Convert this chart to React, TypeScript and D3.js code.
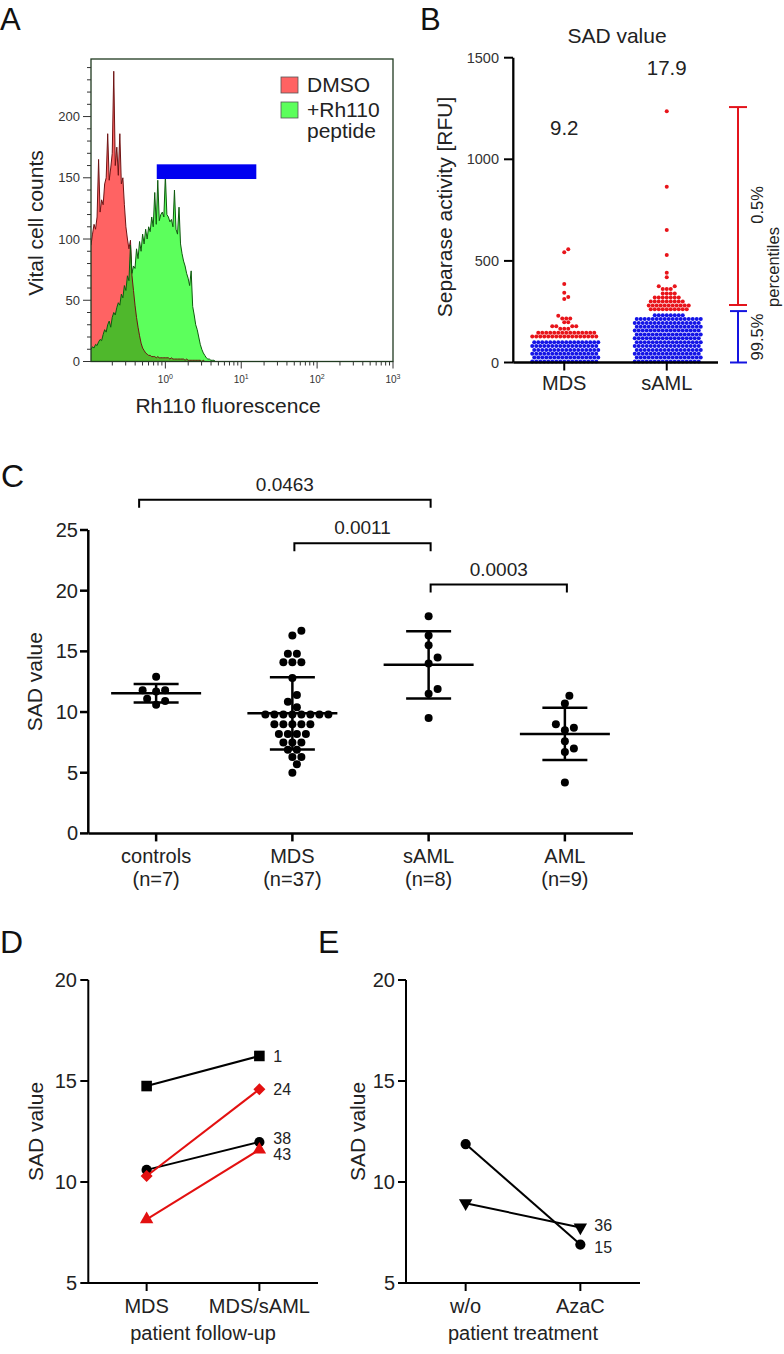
import React from "react";
import * as d3 from "d3";

const FONT = "'Liberation Sans', Arial, Helvetica, sans-serif";

/* ---------------- Panel A: flow histogram ---------------- */
const histLogStart = -0.98;
const histLogStep = 0.02;
const dmsoCounts = [95,104,112,108,118,165,122,132,128,145,150,186,148,158,170,237,160,175,152,186,145,150,128,110,100,92,99,70,58,46,36,28,21,15,11,9,7,6,5,5,4,4,4,3,4,3,3,3,3,3,3,3,2,3,2,2,2,2,2,2,2,2,1,2,1,1,1,1,1,1,1,1,1,0,1,0,0];
const rh110Counts = [10,12,11,14,13,16,18,17,22,26,24,30,33,28,36,40,38,44,48,46,55,52,62,58,70,66,95,72,78,76,92,84,98,90,104,96,108,100,110,106,118,110,138,112,148,115,120,122,118,152,120,118,114,116,110,140,108,104,126,96,88,82,78,72,68,62,74,45,38,30,26,20,14,10,7,5,3,2,2,1,1,1,0];
const aYTicks = [0, 50, 100, 150, 200];
const aXDecades = [0, 1, 2, 3];
const aLegend = ["DMSO", "+Rh110", "peptide"];
const gateX = [0.77, 15.8];
const gateY = [149, 161];

/* ---------------- Panel B: separase activity ---------------- */
const bCategories = ["MDS", "sAML"];
const bSadLabels = ["9.2", "17.9"];
const bYTicks = [0, 500, 1000, 1500];
const mdsRowValues = [5, 24, 43, 62, 81, 100, 128, 147, 166, 178, 198, 216, 230, 312, 322, 343, 386, 543, 557];
const mdsRowCounts = [17, 17, 17, 17, 17, 17, 17, 15, 3, 4, 2, 3, 1, 1, 1, 1, 1, 1, 1];
const samlRowValues = [5, 24, 43, 62, 81, 100, 119, 138, 157, 176, 195, 214, 233, 262, 281, 300, 320, 340, 362, 375, 419, 442, 529, 652, 865, 1237];
const samlRowCounts = [17, 17, 17, 17, 17, 17, 17, 17, 17, 17, 17, 17, 8, 10, 11, 9, 7, 4, 3, 2, 1, 1, 1, 1, 1, 1];
const bCutoffs = [114, 250];
const bRedRange = [283, 1257];
const bBlueRange = [0, 253];

/* ---------------- Panel C: SAD values ---------------- */
const cCategories = ["controls", "MDS", "sAML", "AML"];
const cCounts = ["(n=7)", "(n=37)", "(n=8)", "(n=9)"];
const cYTicks = [0, 5, 10, 15, 20, 25];
const controlsSad = [12.9, 11.8, 11.7, 11.8, 11.1, 10.9, 10.6];
const mdsSad = [16.7, 16.3, 14.8, 14.8, 14.1, 14.1, 14.1, 12.8, 11.4, 10.85, 10.4,
  9.8, 9.8, 9.8, 9.8, 9.8, 9.8, 9.8, 9.8, 9.0, 9.0, 9.0, 9.0, 9.0,
  8.2, 8.2, 8.2, 8.2, 7.5, 7.5, 7.5, 6.9, 6.9, 6.3, 6.3, 5.7, 5.0];
const samlSad = [17.9, 16.3, 15.5, 14.5, 14.0, 11.9, 11.5, 9.5];
const amlSad = [11.35, 10.7, 9.0, 8.7, 8.5, 7.6, 7.0, 6.7, 4.2];
const pFrom = ["controls", "MDS", "sAML"];
const pTo = ["sAML", "sAML", "AML"];
const pValues = ["0.0463", "0.0011", "0.0003"];
const pLevels = [27.5, 23.9, 20.5];

/* ---------------- Panel D: follow-up ---------------- */
const dCategories = ["MDS", "MDS/sAML"];
const dPatients = ["1", "24", "38", "43"];
const dBefore = [14.75, 10.3, 10.6, 8.15];
const dAfter = [16.24, 14.59, 11.98, 11.6];

/* ---------------- Panel E: treatment ---------------- */
const eCategories = ["w/o", "AzaC"];
const ePatients = ["15", "36"];
const eBefore = [11.88, 8.95];
const eAfter = [6.9, 7.75];
const deYTicks = [5, 10, 15, 20];

/* ---------------- styles (not data) ---------------- */
const markerStyle: Record<string, { shape: string; color: string; nudge: number }> = {
  "1": { shape: "square", color: "#000", nudge: 0 },
  "24": { shape: "diamond", color: "#e31010", nudge: 0 },
  "38": { shape: "circle", color: "#000", nudge: -4 },
  "43": { shape: "triangle", color: "#e31010", nudge: 5 },
  "15": { shape: "circle", color: "#000", nudge: 3 },
  "36": { shape: "triangleDown", color: "#000", nudge: -2 },
};

type Pt = { v: number; dx: number; y: number };
function swarm(values: number[], yOf: (v: number) => number, diam: number, step: number): Pt[] {
  const placed: [number, number][] = [];
  const out: Pt[] = [];
  for (const v of values) {
    const y = yOf(v);
    let dx = 0;
    for (let k = 0; k < 600; k++) {
      const n = Math.ceil(k / 2);
      const off = k === 0 ? 0 : (k % 2 === 1 ? 1 : -1) * n * step;
      let ok = true;
      for (const [px, py] of placed) {
        const a = px - off, b = py - y;
        if (a * a + b * b < diam * diam - 1e-6) { ok = false; break; }
      }
      if (ok) { dx = off; break; }
    }
    placed.push([dx, y]);
    out.push({ v, dx, y });
  }
  return out;
}
const expandRows = (vals: number[], counts: number[]) =>
  vals.flatMap((v, i) => d3.range(counts[i]).map(() => v));

function symbolPath(shape: string): { d: string; rot: number } {
  if (shape === "square") return { d: d3.symbol().type(d3.symbolSquare).size(112)()!, rot: 0 };
  if (shape === "diamond") return { d: d3.symbol().type(d3.symbolSquare).size(72)()!, rot: 45 };
  if (shape === "circle") return { d: d3.symbol().type(d3.symbolCircle).size(82)()!, rot: 0 };
  if (shape === "triangle") return { d: d3.symbol().type(d3.symbolTriangle).size(78)()!, rot: 0 };
  return { d: d3.symbol().type(d3.symbolTriangle).size(78)()!, rot: 180 };
}

export default function App() {
  /* ---- A ---- */
  const xA = d3.scaleLog().domain([Math.pow(10, histLogStart), 1000]).range([91, 393]);
  const yA = d3.scaleLinear().domain([0, 247]).range([361.5, 59]);
  const binX = (i: number) => xA(Math.pow(10, histLogStart + histLogStep * i));
  const areaA = d3.area<number>().x((_, i) => binX(i)).y0(yA(0)).y1((d) => yA(d));
  const lineA = d3.line<number>().x((_, i) => binX(i)).y((d) => yA(d));
  const overlap = rh110Counts.map((g, i) => Math.min(g, dmsoCounts[i] ?? 0));
  const aMinorX: number[] = [];
  for (let dd = -1; dd < 3; dd++)
    for (let m = 1; m < 10; m++) {
      const v = m * Math.pow(10, dd);
      if (v >= xA.domain()[0] && v <= 1000) aMinorX.push(v);
    }
  aMinorX.push(1000);
  const aMinorY = d3.range(0, 250, 10);

  /* ---- B ---- */
  const yB = d3.scaleLinear().domain([0, 1500]).range([362.5, 57.7]);
  const xB = d3.scalePoint<string>().domain(bCategories).range([513, 718]).padding(0.5);
  const bGroups = [
    swarm(expandRows(mdsRowValues, mdsRowCounts), yB, 4, 2),
    swarm(expandRows(samlRowValues, samlRowCounts), yB, 4, 2),
  ];

  /* ---- C ---- */
  const yC = d3.scaleLinear().domain([0, 25]).range([833.4, 530]);
  const xC = d3.scalePoint<string>().domain(cCategories).range([88, 633]).padding(0.5);
  const cData = [controlsSad, mdsSad, samlSad, amlSad];
  const cSwarms = cData.map((arr) => swarm([...arr].sort((a, b) => a - b), yC, 8.5, 4.5));

  /* ---- D / E ---- */
  const yDE = d3.scaleLinear().domain([5, 20]).range([1283, 980]);
  const xD = d3.scalePoint<string>().domain(dCategories).range([88, 318]).padding(0.52);
  const xE = d3.scalePoint<string>().domain(eCategories).range([406, 640]).padding(0.52);

  const tickText = { fontFamily: FONT, fill: "#222" } as const;

  const pairedPanel = (
    x: d3.ScalePoint<string>,
    axisX: number,
    cats: string[],
    patients: string[],
    before: number[],
    after: number[],
    title: string,
    labelX: number,
    tickLabelX: number
  ) => {
    const [x0, x1] = x.range();
    const order = patients.map((p, i) => i).sort((a, b) => (markerStyle[patients[a]].color === "#000" ? -1 : 1) - (markerStyle[patients[b]].color === "#000" ? -1 : 1));
    return (
      <g>
        <line x1={axisX} x2={axisX} y1={yDE(20)} y2={yDE(5)} stroke="#000" strokeWidth={2} />
        <line x1={x0} x2={x1} y1={yDE(5)} y2={yDE(5)} stroke="#000" strokeWidth={2} />
        {deYTicks.map((t) => (
          <g key={t}>
            <line x1={axisX - 8} x2={axisX} y1={yDE(t)} y2={yDE(t)} stroke="#000" strokeWidth={2} />
            <text x={tickLabelX} y={yDE(t)} dy="0.35em" textAnchor="end" fontSize={20} {...tickText}>{t}</text>
          </g>
        ))}
        {cats.map((c) => (
          <g key={c}>
            <line x1={x(c)!} x2={x(c)!} y1={yDE(5)} y2={yDE(5) + 8} stroke="#000" strokeWidth={2} />
            <text x={x(c)!} y={1313} textAnchor="middle" fontSize={20} {...tickText}>{c}</text>
          </g>
        ))}
        <text x={(x0 + x1) / 2} y={1340} textAnchor="middle" fontSize={20} {...tickText}>{title}</text>
        <text transform={`translate(${labelX},${(yDE(5) + yDE(20)) / 2}) rotate(-90)`} textAnchor="middle" fontSize={21} {...tickText}>SAD value</text>
        {order.map((i) => {
          const st = markerStyle[patients[i]];
          const sp = symbolPath(st.shape);
          const xa = x(cats[0])!, xb = x(cats[1])!;
          return (
            <g key={patients[i]}>
              <line x1={xa} x2={xb} y1={yDE(before[i])} y2={yDE(after[i])} stroke={st.color} strokeWidth={2} />
              <path d={sp.d} transform={`translate(${xa},${yDE(before[i])}) rotate(${sp.rot})`} fill={st.color} />
              <path d={sp.d} transform={`translate(${xb},${yDE(after[i])}) rotate(${sp.rot})`} fill={st.color} />
              <text x={xb + 14} y={yDE(after[i]) + st.nudge} dy="0.35em" fontSize={16} {...tickText}>{patients[i]}</text>
            </g>
          );
        })}
      </g>
    );
  };

  return (
    <svg width={784} height={1354} style={{ position: "absolute", left: 0, top: 0, background: "#fff" }} fontFamily={FONT}>
      <rect width={784} height={1354} fill="#fff" />
      {/* panel letters */}
      <text x={0} y={30} fontSize={31} fill="#111">A</text>
      <text x={420} y={30} fontSize={31} fill="#111">B</text>
      <text x={1} y={487} fontSize={32} fill="#111">C</text>
      <text x={0} y={953} fontSize={32} fill="#111">D</text>
      <text x={318} y={953} fontSize={32} fill="#111">E</text>

      {/* ================= A ================= */}
      <defs>
        <clipPath id="clipA">
          <rect x={91} y={59} width={302} height={302.5} />
        </clipPath>
      </defs>
      <g clipPath="url(#clipA)">
        <path d={areaA(dmsoCounts)!} fill="#ff6363" />
        <path d={areaA(rh110Counts)!} fill="#5cff5c" />
        <path d={areaA(overlap)!} fill="#4fb82c" />
        <path d={lineA(dmsoCounts)!} fill="none" stroke="#6e1414" strokeWidth={1} />
        <path d={lineA(rh110Counts)!} fill="none" stroke="#0f5a0f" strokeWidth={1} />
        <rect x={xA(gateX[0])} y={yA(gateY[1])} width={xA(gateX[1]) - xA(gateX[0])} height={yA(gateY[0]) - yA(gateY[1])} fill="#0000f0" />
      </g>
      <rect x={91} y={59} width={302} height={302.5} fill="none" stroke="#1f3a1f" strokeWidth={1.3} />
      {aMinorY.map((t) => (
        <line key={t} x1={aYTicks.includes(t) ? 83 : 87} x2={91} y1={yA(t)} y2={yA(t)} stroke="#333" strokeWidth={1} />
      ))}
      {aYTicks.map((t) => (
        <text key={t} x={80} y={yA(t)} dy="0.35em" textAnchor="end" fontSize={13} fill="#333">{t}</text>
      ))}
      {aMinorX.map((v, i) => {
        const major = aXDecades.some((dd) => Math.abs(v - Math.pow(10, dd)) < 1e-9);
        return <line key={i} x1={xA(v)} x2={xA(v)} y1={361.5} y2={361.5 + (major ? 7 : 4)} stroke="#333" strokeWidth={1} />;
      })}
      {aXDecades.map((dd) => (
        <text key={dd} x={xA(Math.pow(10, dd))} y={383} textAnchor="middle" fontSize={10} fill="#333">
          10<tspan dy={-4} fontSize={7}>{dd}</tspan>
        </text>
      ))}
      <text x={228} y={413} textAnchor="middle" fontSize={21} fill="#222">Rh110 fluorescence</text>
      <text transform="translate(43,223) rotate(-90)" textAnchor="middle" fontSize={21} fill="#222">Vital cell counts</text>
      <rect x={281} y={77} width={17} height={16} fill="#ff6363" stroke="#555" strokeWidth={0.8} />
      <rect x={281} y={102} width={17} height={16} fill="#5cff5c" stroke="#555" strokeWidth={0.8} />
      <text x={307} y={92} fontSize={21} fill="#222">{aLegend[0]}</text>
      <text x={307} y={117} fontSize={21} fill="#222">{aLegend[1]}</text>
      <text x={307} y={138} fontSize={21} fill="#222">{aLegend[2]}</text>

      {/* ================= B ================= */}
      <text x={617} y={43} textAnchor="middle" fontSize={21} fill="#222">SAD value</text>
      {bGroups.map((g, gi) =>
        g.map((p, i) => (
          <circle key={`${gi}-${i}`} cx={xB(bCategories[gi])! + p.dx} cy={p.y} r={2} fill={p.v > bCutoffs[gi] ? "#e8141a" : "#1414e6"} />
        ))
      )}
      <line x1={513.3} x2={513.3} y1={yB(1500)} y2={yB(0)} stroke="#000" strokeWidth={2.3} />
      <line x1={513.3} x2={718} y1={yB(0)} y2={yB(0)} stroke="#000" strokeWidth={2.3} />
      {bYTicks.map((t) => (
        <g key={t}>
          <line x1={504} x2={513} y1={yB(t)} y2={yB(t)} stroke="#000" strokeWidth={2} />
          <text x={499} y={yB(t)} dy="0.35em" textAnchor="end" fontSize={14.5} fill="#333">{t}</text>
        </g>
      ))}
      {bCategories.map((c, i) => (
        <g key={c}>
          <line x1={xB(c)!} x2={xB(c)!} y1={yB(0)} y2={yB(0) + 8} stroke="#000" strokeWidth={2} />
          <text x={xB(c)!} y={390} textAnchor="middle" fontSize={20} fill="#222">{c}</text>
          <text x={xB(c)!} y={i === 0 ? 135 : 75} textAnchor="middle" fontSize={20.5} fill="#222">{bSadLabels[i]}</text>
        </g>
      ))}
      <text transform="translate(452,207) rotate(-90)" textAnchor="middle" fontSize={21} fill="#222">Separase activity [RFU]</text>
      <g stroke="#e3141c" strokeWidth={2}>
        <line x1={738} x2={738} y1={yB(bRedRange[0])} y2={yB(bRedRange[1])} />
        <line x1={729} x2={747} y1={yB(bRedRange[0])} y2={yB(bRedRange[0])} />
        <line x1={729} x2={747} y1={yB(bRedRange[1])} y2={yB(bRedRange[1])} />
      </g>
      <g stroke="#1414e0" strokeWidth={2}>
        <line x1={738} x2={738} y1={yB(bBlueRange[0])} y2={yB(bBlueRange[1])} />
        <line x1={730} x2={747} y1={yB(bBlueRange[0])} y2={yB(bBlueRange[0])} />
        <line x1={730} x2={747} y1={yB(bBlueRange[1])} y2={yB(bBlueRange[1])} />
      </g>
      <text transform="translate(763,205) rotate(-90)" textAnchor="middle" fontSize={16.5} fill="#222">0.5%</text>
      <text transform="translate(763,337) rotate(-90)" textAnchor="middle" fontSize={16.5} fill="#222">99.5%</text>
      <text transform="translate(779,267) rotate(-90)" textAnchor="middle" fontSize={16.5} fill="#222">percentiles</text>

      {/* ================= C ================= */}
      <line x1={88.3} x2={88.3} y1={yC(25)} y2={yC(0)} stroke="#000" strokeWidth={2.5} />
      <line x1={88.3} x2={633} y1={yC(0)} y2={yC(0)} stroke="#000" strokeWidth={2.5} />
      {cYTicks.map((t) => (
        <g key={t}>
          <line x1={80} x2={88} y1={yC(t)} y2={yC(t)} stroke="#000" strokeWidth={2.5} />
          <text x={78} y={yC(t)} dy="0.35em" textAnchor="end" fontSize={20} {...tickText}>{t}</text>
        </g>
      ))}
      {cCategories.map((c, i) => (
        <g key={c}>
          <line x1={xC(c)!} x2={xC(c)!} y1={yC(0)} y2={yC(0) + 8} stroke="#000" strokeWidth={2.5} />
          <text x={xC(c)!} y={863} textAnchor="middle" fontSize={20} {...tickText}>{c}</text>
          <text x={xC(c)!} y={886} textAnchor="middle" fontSize={20} {...tickText}>{cCounts[i]}</text>
        </g>
      ))}
      <text transform={`translate(42,${(yC(0) + yC(25)) / 2}) rotate(-90)`} textAnchor="middle" fontSize={21} {...tickText}>SAD value</text>
      {cSwarms.map((sw, ci) => {
        const cx = xC(cCategories[ci])!;
        const m = d3.mean(cData[ci])!;
        const sd = d3.deviation(cData[ci])!;
        return (
          <g key={ci}>
            {sw.map((p, i) => (
              <circle key={i} cx={cx + p.dx} cy={p.y} r={4} fill="#000" />
            ))}
            <line x1={cx - 45} x2={cx + 45} y1={yC(m)} y2={yC(m)} stroke="#000" strokeWidth={2.5} />
            <line x1={cx - 22.5} x2={cx + 22.5} y1={yC(m + sd)} y2={yC(m + sd)} stroke="#000" strokeWidth={2.5} />
            <line x1={cx - 22.5} x2={cx + 22.5} y1={yC(m - sd)} y2={yC(m - sd)} stroke="#000" strokeWidth={2.5} />
            <line x1={cx} x2={cx} y1={yC(m + sd)} y2={yC(m - sd)} stroke="#000" strokeWidth={2.5} />
          </g>
        );
      })}
      {pFrom.map((f, i) => {
        const xa = xC(f)! + (i === 0 ? -17 : 2);
        const xb = xC(pTo[i])! + 2;
        const y = yC(pLevels[i]);
        return (
          <g key={i}>
            <path d={`M${xa},${y + 8}V${y}H${xb}V${y + 8}`} fill="none" stroke="#000" strokeWidth={2} />
            <text x={(xa + xb) / 2} y={y - 9} textAnchor="middle" fontSize={19} {...tickText}>{pValues[i]}</text>
          </g>
        );
      })}

      {/* ================= D & E ================= */}
      {pairedPanel(xD, 88.3, dCategories, dPatients, dBefore, dAfter, "patient follow-up", 43, 77)}
      {pairedPanel(xE, 406, eCategories, ePatients, eBefore, eAfter, "patient treatment", 365, 395)}
    </svg>
  );
}
